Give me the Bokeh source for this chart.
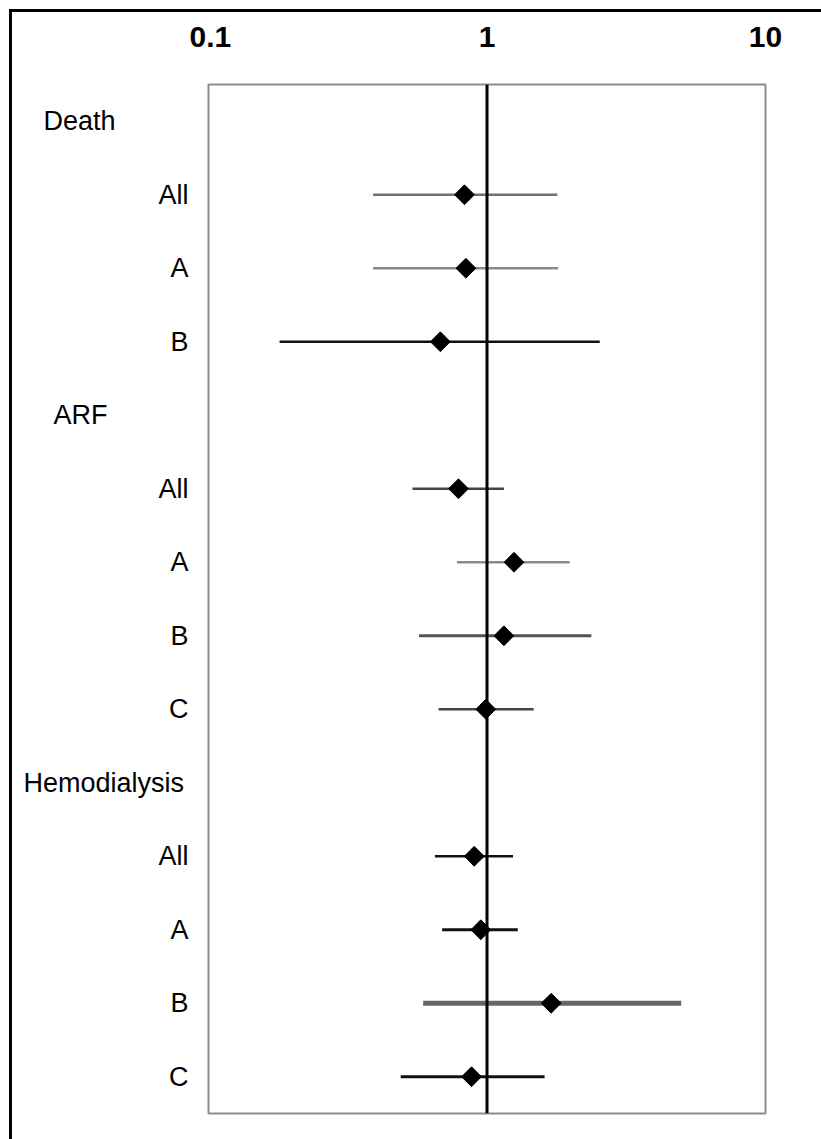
import numpy as np
from bokeh.plotting import figure
from bokeh.models import Range1d, Span, FixedTicker, ColumnDataSource
from bokeh.core.properties import value
from bokeh.layouts import row
from bokeh.embed import file_html
from bokeh.resources import INLINE

# Rows of the forest plot, top to bottom. Group headings carry no estimate.
row_labels = ["Death", "All", "A", "B",
              "ARF", "All", "A", "B", "C",
              "Hemodialysis", "All", "A", "B", "C"]
is_heading = [True, False, False, False,
              True, False, False, False, False,
              True, False, False, False, False]

# Odds ratios with 95% confidence intervals for the estimate rows (in order)
odds_ratio = [0.83, 0.84, 0.68, 0.79, 1.25, 1.15, 0.99, 0.90, 0.95, 1.70, 0.88]
ci_low = [0.39, 0.39, 0.18, 0.54, 0.78, 0.57, 0.67, 0.65, 0.69, 0.59, 0.49]
ci_high = [1.79, 1.80, 2.54, 1.15, 1.98, 2.37, 1.47, 1.24, 1.29, 4.98, 1.61]

# Axis ticks
tick_values = [0.1, 1, 10]
tick_labels = ["0.1", "1", "10"]

# Line styling of each confidence-interval bar
bar_colors = ["#707070", "#8a8a8a", "#111111", "#444444", "#8a8a8a", "#555555",
              "#444444", "#111111", "#111111", "#666666", "#111111"]
bar_widths = [2.5, 2.5, 2.5, 2.5, 2.5, 3, 2.5, 2.5, 3, 5, 3]

# Label column geometry (px inside the label panel)
LABEL_PANEL_W = 177
MAIN_LEFT_BORDER = 196 - LABEL_PANEL_W
heading_left = {"Death": 31, "ARF": 41, "Hemodialysis": 11}
sublabel_right = 176

FONT = "Liberation Sans"
TOP, BOTTOM, HEIGHT = 72, 26, 1127

est_rows = [i for i, h in enumerate(is_heading) if not h]
y_range = Range1d(len(row_labels) - 0.5, -0.5)

src = ColumnDataSource(dict(
    y=est_rows, est=odds_ratio, lo=ci_low, hi=ci_high,
    color=bar_colors, width=bar_widths,
))

# ---- label panel -------------------------------------------------------
lab = figure(
    width=LABEL_PANEL_W, height=HEIGHT,
    x_range=Range1d(0, LABEL_PANEL_W), y_range=y_range,
    x_axis_location=None, y_axis_location=None,
    output_backend="svg", toolbar_location=None,
    min_border_left=0, min_border_right=0, min_border_top=TOP, min_border_bottom=BOTTOM,
)
lab.grid.visible = False
lab.outline_line_color = None
lab.background_fill_color = "white"
lab.border_fill_color = "white"

head_idx = [i for i, h in enumerate(is_heading) if h]
sub_idx = est_rows
lab.text(x=[heading_left[row_labels[i]] for i in head_idx], y=head_idx,
         text=[row_labels[i] for i in head_idx],
         text_align="left", text_baseline="middle",
         text_font=value(FONT), text_font_size="27px", text_color="black")
lab.text(x=[sublabel_right] * len(sub_idx), y=sub_idx,
         text=[row_labels[i] for i in sub_idx],
         text_align="right", text_baseline="middle",
         text_font=value(FONT), text_font_size="27px", text_color="black")

# ---- forest plot -------------------------------------------------------
p = figure(
    width=809 - LABEL_PANEL_W, height=HEIGHT,
    x_axis_type="log", x_axis_location="above", y_axis_location=None,
    x_range=Range1d(0.1, 10), y_range=y_range,
    output_backend="svg", toolbar_location=None,
    min_border_left=MAIN_LEFT_BORDER, min_border_right=56,
    min_border_top=TOP, min_border_bottom=BOTTOM,
)
p.grid.visible = False
p.background_fill_color = "white"
p.border_fill_color = "white"
p.outline_line_color = "#8c8c8c"
p.outline_line_width = 2

ax = p.xaxis[0]
ax.ticker = FixedTicker(ticks=tick_values, minor_ticks=[])
ax.major_label_overrides = {v: t for v, t in zip(tick_values, tick_labels)}
ax.axis_line_color = None
ax.major_tick_line_color = None
ax.minor_tick_line_color = None
ax.major_label_standoff = 32
ax.major_label_text_font = FONT
ax.major_label_text_font_style = "bold"
ax.major_label_text_font_size = "30px"
ax.major_label_text_color = "black"

# Confidence intervals
p.segment(x0="lo", y0="y", x1="hi", y1="y", source=src,
          line_color="color", line_width="width")

# Line of no effect
p.add_layout(Span(location=1, dimension="height", line_color="black", line_width=3))

# Point estimates
p.scatter(x="est", y="y", source=src, marker="square", angle=np.pi / 4,
          size=14, fill_color="black", line_color="black")

page = row(lab, p, spacing=0,
           styles={"margin-left": "9px", "margin-top": "9px",
                   "border-left": "3px solid black", "border-top": "3px solid black"})

open("out.html", "w").write(file_html(page, INLINE))
